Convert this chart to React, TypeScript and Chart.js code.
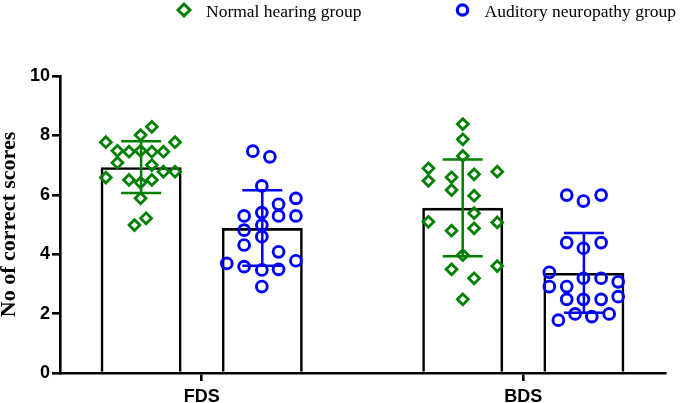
import React, { useEffect, useRef } from 'react';
import { Chart, registerables } from 'chart.js';

Chart.register(...registerables);

// ---------- data ----------
const categories = ['FDS', 'BDS'];
const groupLabels = ['Normal hearing group', 'Auditory neuropathy group'];
const yTickValues = [0, 2, 4, 6, 8, 10];

const normalMeans = [6.93, 5.56];
const normalSD = [0.87, 1.63];
const anMeans = [4.88, 3.37];
const anSD = [1.27, 1.34];

// individual scores (x = category index + jitter)
const normalX = [
  -0.155, -0.298, -0.19, -0.083, -0.262, -0.226, -0.19, -0.155, -0.119, -0.262,
  -0.155, -0.298, -0.119, -0.083, -0.226, -0.19, -0.155, -0.19, -0.209, -0.173,
  0.812, 0.812, 0.812, 0.705, 0.705, 0.777, 0.777, 0.847, 0.847, 0.919,
  0.847, 0.705, 0.919, 0.777, 0.847, 0.812, 0.777, 0.847, 0.919, 0.812,
];
const normalY = [
  8.29, 7.77, 8.01, 7.77, 7.48, 7.45, 7.48, 7.45, 7.45, 7.08,
  7.0, 6.58, 6.78, 6.78, 6.5, 6.41, 6.5, 5.88, 4.98, 5.21,
  8.38, 7.87, 7.31, 6.89, 6.47, 6.59, 6.16, 6.69, 5.97, 6.78,
  5.38, 5.09, 5.07, 4.79, 4.87, 3.97, 3.49, 3.19, 3.6, 2.48,
];
const anX = [
  0.159, 0.212, 0.187, 0.239, 0.293, 0.132, 0.187, 0.239, 0.293, 0.132,
  0.187, 0.187, 0.132, 0.239, 0.293, 0.078, 0.132, 0.187, 0.239, 0.187,
  1.135, 1.187, 1.242, 1.135, 1.187, 1.242, 1.081, 1.081, 1.135, 1.187,
  1.242, 1.295, 1.135, 1.187, 1.242, 1.295, 1.109, 1.161, 1.213, 1.267,
];
const anY = [
  7.47, 7.28, 6.3, 5.68, 5.88, 5.29, 5.4, 5.29, 5.29, 4.81,
  4.98, 4.59, 4.31, 4.08, 3.78, 3.69, 3.58, 3.47, 3.49, 2.91,
  5.99, 5.79, 5.99, 4.39, 4.2, 4.39, 3.39, 2.91, 2.91, 3.19,
  3.19, 3.07, 2.48, 2.48, 2.48, 2.57, 1.78, 1.99, 1.9, 1.99,
];

// ---------- style ----------
const GREEN = '#008000';
const BLUE = '#0000ff';
const BLACK = '#000000';
const SANS = '"Liberation Sans", Arial, sans-serif';
const SERIF = '"Liberation Serif", "Times New Roman", serif';

const errorBarPlugin = {
  id: 'errorBars',
  afterDatasetsDraw(chart: any) {
    const ctx = chart.ctx;
    const yScale = chart.scales.y;
    const groups = [
      { bar: 0, means: normalMeans, sd: normalSD, color: GREEN },
      { bar: 1, means: anMeans, sd: anSD, color: BLUE },
    ];
    ctx.save();
    ctx.lineWidth = 2.5;
    ctx.lineCap = 'butt';
    groups.forEach((g) => {
      const meta = chart.getDatasetMeta(g.bar);
      ctx.strokeStyle = g.color;
      meta.data.forEach((el: any, i: number) => {
        const x = el.x;
        const yHi = yScale.getPixelForValue(g.means[i] + g.sd[i]);
        const yLo = yScale.getPixelForValue(g.means[i] - g.sd[i]);
        const cap = 20;
        ctx.beginPath();
        ctx.moveTo(x, yHi);
        ctx.lineTo(x, yLo);
        ctx.moveTo(x - cap, yHi);
        ctx.lineTo(x + cap, yHi);
        ctx.moveTo(x - cap, yLo);
        ctx.lineTo(x + cap, yLo);
        ctx.stroke();
      });
    });
    ctx.restore();
  },
};

const legendPlugin = {
  id: 'topLegend',
  afterDraw(chart: any) {
    const ctx = chart.ctx;
    const items = chart.data.datasets.filter((d: any) => d.type === 'scatter');
    ctx.save();
    ctx.font = `17.5px ${SERIF}`;
    ctx.textAlign = 'left';
    ctx.textBaseline = 'alphabetic';
    let x = 184;
    const markerY = 10;
    const textY = 16.6;
    items.forEach((d: any) => {
      ctx.strokeStyle = d.borderColor;
      ctx.beginPath();
      if (d.pointStyle === 'rectRot') {
        const r = 6;
        ctx.lineWidth = 3;
        ctx.moveTo(x - r, markerY);
        ctx.lineTo(x, markerY - r);
        ctx.lineTo(x + r, markerY);
        ctx.lineTo(x, markerY + r);
        ctx.closePath();
      } else {
        ctx.lineWidth = 3.2;
        ctx.arc(x, markerY, 5.2, 0, Math.PI * 2);
      }
      ctx.stroke();
      ctx.fillStyle = BLACK;
      ctx.fillText(d.label, x + 22, textY);
      const w = ctx.measureText(d.label).width;
      x += 22 + w + 101;
    });
    ctx.restore();
  },
};

export default function App() {
  const canvasRef = useRef<HTMLCanvasElement | null>(null);

  useEffect(() => {
    document.body.style.margin = '0';
    const canvas = canvasRef.current;
    if (!canvas) return;

    const chart = new Chart(canvas, {
      type: 'bar',
      data: {
        datasets: [
          {
            type: 'bar',
            label: groupLabels[0] + ' mean',
            data: categories.map((_, i) => ({ x: i, y: normalMeans[i] })),
            backgroundColor: 'rgba(0,0,0,0)',
            borderColor: BLACK,
            borderWidth: 2.6,
            borderSkipped: 'bottom',
            categoryPercentage: 0.7537,
            barPercentage: 0.668,
            order: 2,
          },
          {
            type: 'bar',
            label: groupLabels[1] + ' mean',
            data: categories.map((_, i) => ({ x: i, y: anMeans[i] })),
            backgroundColor: 'rgba(0,0,0,0)',
            borderColor: BLACK,
            borderWidth: 2.6,
            borderSkipped: 'bottom',
            categoryPercentage: 0.7537,
            barPercentage: 0.668,
            order: 2,
          },
          {
            type: 'scatter',
            label: groupLabels[0],
            data: normalX.map((x, i) => ({ x, y: normalY[i] })),
            pointStyle: 'rectRot',
            pointRadius: 5.4,
            borderColor: GREEN,
            backgroundColor: 'rgba(0,0,0,0)',
            borderWidth: 2.8,
            order: 0,
          },
          {
            type: 'scatter',
            label: groupLabels[1],
            data: anX.map((x, i) => ({ x, y: anY[i] })),
            pointStyle: 'circle',
            pointRadius: 5.4,
            borderColor: BLUE,
            backgroundColor: 'rgba(0,0,0,0)',
            borderWidth: 2.9,
            order: 0,
          },
        ] as any,
      },
      options: {
        animation: false,
        responsive: true,
        maintainAspectRatio: false,
        layout: { padding: { top: 76, right: 19.3, bottom: 0, left: 0 } },
        plugins: {
          legend: { display: false },
          tooltip: { enabled: false },
        },
        scales: {
          x: {
            type: 'linear',
            min: -0.4406,
            max: 1.4428,
            offset: false,
            afterBuildTicks: (axis: any) => {
              axis.ticks = categories.map((_, i) => ({ value: i }));
            },
            afterFit: (axis: any) => {
              axis.height = 30;
            },
            ticks: {
              autoSkip: false,
              padding: 5,
              color: BLACK,
              font: { family: SANS, size: 18, weight: 'bold' },
              callback: (v: any) => categories[Math.round(Number(v))] ?? '',
            },
            grid: {
              display: true,
              offset: false,
              drawOnChartArea: false,
              drawTicks: true,
              tickLength: 8,
              color: BLACK,
              lineWidth: 2.6,
            },
            border: { display: true, color: BLACK, width: 2.6 },
          },
          y: {
            type: 'linear',
            min: 0,
            max: 10,
            afterBuildTicks: (axis: any) => {
              axis.ticks = yTickValues.map((v) => ({ value: v }));
            },
            afterFit: (axis: any) => {
              axis.width = 60;
            },
            ticks: {
              padding: 2,
              color: BLACK,
              font: { family: SANS, size: 18, weight: 'bold' },
            },
            grid: {
              display: true,
              drawOnChartArea: false,
              drawTicks: true,
              tickLength: 8,
              color: BLACK,
              lineWidth: 2.6,
            },
            border: { display: true, color: BLACK, width: 2.6 },
            title: {
              display: true,
              text: 'No of correct scores',
              color: BLACK,
              padding: 0,
              font: { family: SERIF, size: 22, weight: 'bold', lineHeight: 0.85 },
            },
          },
        },
      },
      plugins: [errorBarPlugin, legendPlugin],
    } as any);

    return () => {
      chart.destroy();
    };
  }, []);

  return (
    <div style={{ position: 'relative', width: '685px', height: '403px' }}>
      <canvas ref={canvasRef} />
    </div>
  );
}
